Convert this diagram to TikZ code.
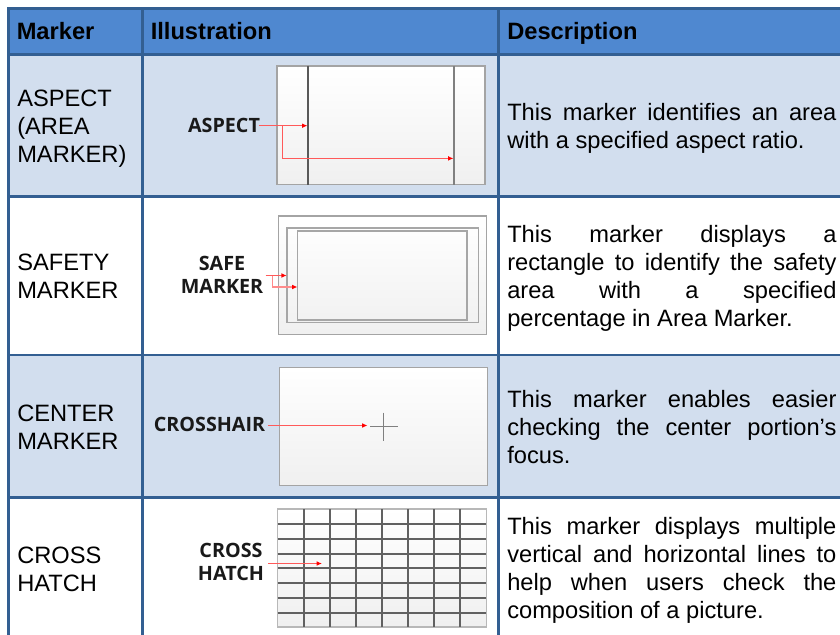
\documentclass[tikz,border=0pt]{standalone}
\usepackage{fontspec}
\setmainfont{Liberation Sans}
\newfontfamily\tagfont[BoldFont={Open Sans Bold}]{Open Sans}
\usepackage{tikz}
\usetikzlibrary{arrows.meta}
\definecolor{hdr}{HTML}{4F88D0}
\definecolor{band}{HTML}{D2DEEE}
\definecolor{rule}{HTML}{335F92}
\definecolor{shot}{HTML}{A4A4A4}
\definecolor{redln}{HTML}{FF5A5A}
\newcommand{\jl}[1]{\makebox[246.9pt][s]{#1}}
\tikzset{x=0.75pt,y=-0.75pt,
 hdrtext/.style={font=\fontsize{17.75}{21}\selectfont\bfseries,anchor=base west,inner sep=0pt,text=black},
 celltext/.style={font=\fontsize{17.75}{21}\selectfont,anchor=west,inner sep=0pt,align=left,text=black},
 tag/.style={font=\tagfont\bfseries\fontsize{14.8}{17.3}\selectfont,inner sep=0pt,align=center,text=black!90},
 ruleln/.style={draw=rule,line width=2.2pt},
 callout/.style={draw=redln,line width=0.8pt,-{Latex[length=4pt,width=3.5pt,color=red]}},
 shotbox/.style={draw=shot,line width=0.8pt,top color=white,bottom color=black!6},
 darkln/.style={draw=black!65,line width=1pt},
 greyln/.style={draw=black!35,line width=1.1pt},
 hatchln/.style={draw=black!62,line width=1.25pt}}
\begin{document}
\begin{tikzpicture}
\useasboundingbox (0,0) rectangle (840,635);
\fill[white] (0,0) rectangle (840,635);
% bands
\fill[hdr] (8,8) rectangle (840,54);
\fill[band] (8,54) rectangle (840,196);
\fill[band] (8,355) rectangle (840,497);
% rules
\draw[ruleln] (7,8.5) -- (840,8.5);
\draw[ruleln] (8,54.2) -- (840,54.2);
\draw[ruleln] (8,196.5) -- (840,196.5);
\draw[ruleln,line width=1.7pt] (8,355) -- (840,355);
\draw[ruleln] (8,497.5) -- (840,497.5);
\draw[ruleln] (8.5,8) -- (8.5,635);
\draw[ruleln] (142.5,8) -- (142.5,635);
\draw[ruleln] (498.5,8) -- (498.5,635);
% header
\node[hdrtext] (h1) at (16.5,40) {Marker};
\node[hdrtext] (h2) at (150.5,40) {Illustration};
\node[hdrtext] (h3) at (507,40) {Description};
% col 1
\node[celltext] (m1) at (17,129) {ASPECT\\(AREA\\MARKER)};
\node[celltext] (m2) at (17,276) {SAFETY\\MARKER};
\node[celltext] (m3) at (17,427) {CENTER\\MARKER};
\node[celltext] (m4) at (17,569) {CROSS\\HATCH};
% col 3
\node[celltext] (d1) at (507,128) {\jl{This marker identifies an area}\\with a specified aspect ratio.};
\node[celltext] (d2) at (507,278) {\jl{This marker displays a}\\\jl{rectangle to identify the safety}\\\jl{area with a specified}\\percentage in Area Marker.};
\node[celltext] (d3) at (507,427) {\jl{This marker enables easier}\\\jl{checking the center portion’s}\\focus.};
\node[celltext] (d4) at (507,570) {\jl{This marker displays multiple}\\\jl{vertical and horizontal lines to}\\\jl{help when users check the}\\composition of a picture.};
% aspect
\draw[shotbox] (277,66) rectangle (485,184.7);
\draw[darkln] (308,66) -- (308,184.7);
\draw[greyln,draw=black!50] (454,66) -- (454,184.7);
\node[tag] (t1) at (224,125) {ASPECT};
\coordinate (a1) at (259,125.7);
\coordinate (a2) at (307.5,125.7);
\coordinate (a3) at (282.5,125.7);
\coordinate (a4) at (453.5,158.4);
\draw[callout] (a1) -- (a2);
\draw[callout] (a3) |- (a4);
% safe
\draw[shotbox] (278.4,216) rectangle (486.7,334.7);
\draw[greyln] (286.8,228) rectangle (478.3,322.7);
\draw[greyln] (297.7,230.8) rectangle (467,320);
\node[tag] (t2) at (222,275) {SAFE\\MARKER};
\coordinate (b1) at (265.5,275.5);
\coordinate (b2) at (286.8,275.5);
\coordinate (b3) at (272.5,275.5);
\coordinate (b4) at (297.5,287);
\draw[callout] (b1) -- (b2);
\draw[callout,draw=redln!70] (b3) |- (b4);
% crosshair
\draw[shotbox] (279.4,367.4) rectangle (487.7,485.7);
\draw[draw=black!50,line width=0.9pt] (370,426.7) -- (397.7,426.7);
\draw[draw=black!50,line width=0.9pt] (383.8,412.7) -- (383.8,440.7);
\node[tag] (t3) at (209.5,424) {CROSSHAIR};
\coordinate (c1) at (268,425.5);
\coordinate (c2) at (367.5,425.5);
\draw[callout] (c1) -- (c2);
% hatch
\draw[shotbox,draw=black!28] (277.7,509) rectangle (486.3,627);
\foreach \xx in {303.7,330,356,382.3,408.3,434.3,460.3}{\draw[hatchln] (\xx,509) -- (\xx,627);}
\foreach \yy in {524,539,554,568.3,583.3,597.7,612.7}{\draw[hatchln] (277.7,\yy) -- (486.3,\yy);}
\node[tag] (t4) at (231,562) {CROSS\\HATCH};
\coordinate (e1) at (268,563.5);
\coordinate (e2) at (322,563.5);
\draw[callout] (e1) -- (e2);
\end{tikzpicture}
\end{document}
